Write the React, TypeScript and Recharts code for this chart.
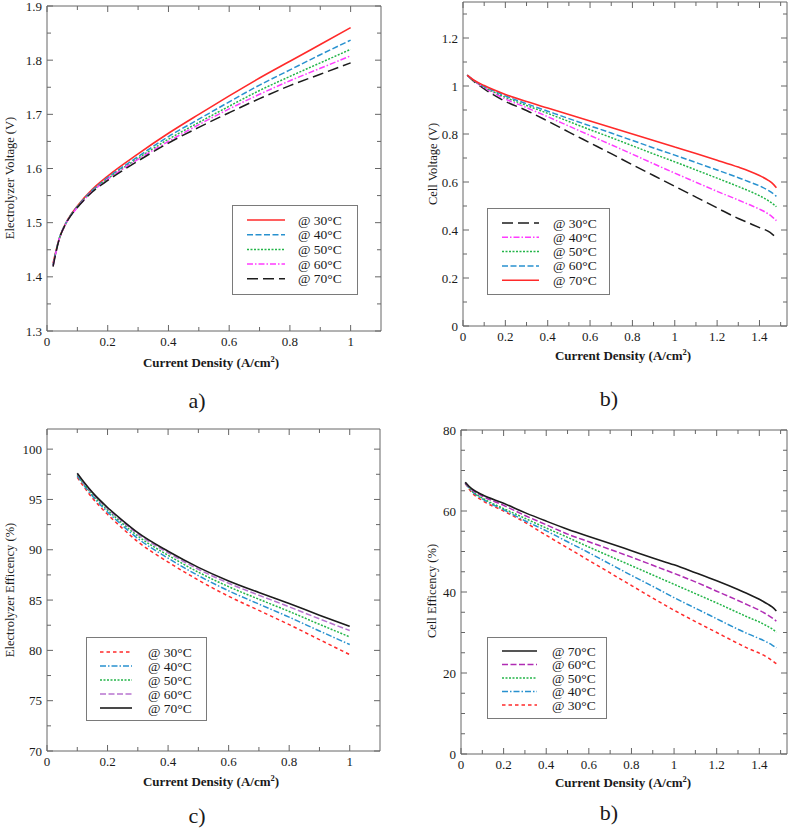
import React from "react";
import { LineChart, Line, XAxis, YAxis, Legend } from "recharts";

const PAGE_W = 789;
const PAGE_H = 830;
const FONT = '"Liberation Serif", "Times New Roman", Times, serif';

// ---------------- Panel a) Electrolyzer voltage ----------------
const aCurrent = [0.02, 0.04, 0.06, 0.08, 0.1, 0.15, 0.2, 0.3, 0.4, 0.5, 0.6, 0.7, 0.8, 0.9, 1.0];
const aV30 = [1.425, 1.47, 1.497, 1.516, 1.531, 1.562, 1.586, 1.627, 1.665, 1.7, 1.734, 1.767, 1.798, 1.829, 1.86];
const aV40 = [1.422, 1.47, 1.497, 1.515, 1.53, 1.56, 1.583, 1.622, 1.659, 1.691, 1.723, 1.754, 1.782, 1.81, 1.837];
const aV50 = [1.421, 1.47, 1.496, 1.515, 1.529, 1.559, 1.581, 1.619, 1.654, 1.685, 1.715, 1.744, 1.77, 1.795, 1.82];
const aV60 = [1.42, 1.469, 1.496, 1.514, 1.528, 1.558, 1.58, 1.617, 1.65, 1.681, 1.71, 1.737, 1.762, 1.785, 1.808];
const aV70 = [1.419, 1.469, 1.496, 1.514, 1.528, 1.557, 1.578, 1.614, 1.647, 1.676, 1.703, 1.729, 1.753, 1.774, 1.795];
const aXTicks = [0, 0.1, 0.2, 0.3, 0.4, 0.5, 0.6, 0.7, 0.8, 0.9, 1];
const aXLabels = [0, 0.2, 0.4, 0.6, 0.8, 1];
const aYTicks = [1.3, 1.35, 1.4, 1.45, 1.5, 1.55, 1.6, 1.65, 1.7, 1.75, 1.8, 1.85, 1.9];
const aYLabels = [1.3, 1.4, 1.5, 1.6, 1.7, 1.8, 1.9];

// ---------------- Panel b) Fuel cell voltage ----------------
const bCurrent = [0.02, 0.05, 0.1, 0.2, 0.3, 0.4, 0.5, 0.6, 0.7, 0.8, 0.9, 1.0, 1.1, 1.2, 1.3, 1.35, 1.4, 1.44, 1.46, 1.48];
const bV70 = [1.045, 1.025, 1.002, 0.965, 0.935, 0.908, 0.881, 0.854, 0.827, 0.8, 0.773, 0.746, 0.719, 0.691, 0.662, 0.646, 0.627, 0.608, 0.595, 0.576];
const bV60 = [1.045, 1.024, 0.999, 0.959, 0.926, 0.895, 0.864, 0.834, 0.804, 0.773, 0.742, 0.712, 0.681, 0.65, 0.618, 0.601, 0.584, 0.566, 0.555, 0.54];
const bV50 = [1.045, 1.023, 0.996, 0.953, 0.919, 0.886, 0.852, 0.818, 0.785, 0.751, 0.717, 0.684, 0.65, 0.616, 0.581, 0.563, 0.543, 0.523, 0.511, 0.497];
const bV40 = [1.045, 1.022, 0.993, 0.946, 0.91, 0.872, 0.833, 0.794, 0.755, 0.716, 0.676, 0.637, 0.599, 0.561, 0.525, 0.506, 0.487, 0.468, 0.455, 0.439];
const bV30 = [1.045, 1.02, 0.988, 0.936, 0.898, 0.854, 0.808, 0.763, 0.718, 0.672, 0.627, 0.582, 0.537, 0.492, 0.448, 0.429, 0.41, 0.395, 0.383, 0.368];
const bXTicks = [0, 0.1, 0.2, 0.3, 0.4, 0.5, 0.6, 0.7, 0.8, 0.9, 1, 1.1, 1.2, 1.3, 1.4, 1.5];
const bXLabels = [0, 0.2, 0.4, 0.6, 0.8, 1, 1.2, 1.4];
const bYTicks = [0, 0.1, 0.2, 0.3, 0.4, 0.5, 0.6, 0.7, 0.8, 0.9, 1, 1.1, 1.2, 1.3];
const bYLabels = [0, 0.2, 0.4, 0.6, 0.8, 1, 1.2];

// ---------------- Panel c) Electrolyzer efficiency ----------------
const cCurrent = [0.1, 0.125, 0.15, 0.2, 0.25, 0.3, 0.4, 0.5, 0.6, 0.7, 0.8, 0.9, 1.0];
const cE30 = [97.2, 96.12, 95.14, 93.52, 92.11, 90.8, 88.78, 86.98, 85.38, 83.97, 82.56, 81.07, 79.58];
const cE40 = [97.35, 96.29, 95.34, 93.76, 92.39, 91.12, 89.16, 87.43, 85.92, 84.6, 83.3, 81.93, 80.58];
const cE50 = [97.45, 96.42, 95.49, 93.95, 92.6, 91.36, 89.45, 87.77, 86.33, 85.08, 83.87, 82.59, 81.34];
const cE60 = [97.54, 96.53, 95.61, 94.1, 92.78, 91.56, 89.69, 88.06, 86.67, 85.48, 84.33, 83.13, 81.97];
const cE70 = [97.6, 96.6, 95.7, 94.2, 92.9, 91.7, 89.85, 88.25, 86.9, 85.75, 84.65, 83.5, 82.4];
const cXTicks = [0, 0.1, 0.2, 0.3, 0.4, 0.5, 0.6, 0.7, 0.8, 0.9, 1];
const cXLabels = [0, 0.2, 0.4, 0.6, 0.8, 1];
const cYTicks = [70, 72.5, 75, 77.5, 80, 82.5, 85, 87.5, 90, 92.5, 95, 97.5, 100];
const cYLabels = [70, 75, 80, 85, 90, 95, 100];

// ---------------- Panel d) Fuel cell efficiency ----------------
const dCurrent = [0.02, 0.05, 0.1, 0.2, 0.3, 0.4, 0.5, 0.6, 0.7, 0.8, 0.9, 1.0, 1.1, 1.2, 1.3, 1.35, 1.4, 1.44, 1.46, 1.48];
const dE70 = [67.1, 65.5, 64.0, 61.9, 59.6, 57.5, 55.5, 53.7, 52.0, 50.2, 48.4, 46.7, 44.75, 42.75, 40.6, 39.45, 38.2, 37.0, 36.3, 35.3];
const dE60 = [67.0, 65.3, 63.7, 61.4, 58.9, 56.6, 54.3, 52.4, 50.5, 48.6, 46.6, 44.6, 42.5, 40.2, 37.9, 36.7, 35.5, 34.3, 33.6, 32.8];
const dE50 = [67.0, 65.0, 63.2, 60.6, 58.2, 55.8, 53.5, 51.1, 48.8, 46.5, 44.2, 41.9, 39.6, 37.3, 34.9, 33.7, 32.6, 31.5, 30.9, 30.1];
const dE40 = [66.9, 64.9, 63.0, 60.3, 57.6, 55.1, 52.4, 49.7, 46.9, 44.1, 41.4, 38.6, 36.0, 33.4, 30.8, 29.6, 28.5, 27.5, 26.9, 26.2];
const dE30 = [66.8, 64.6, 62.6, 60.0, 57.2, 54.0, 50.9, 47.8, 44.7, 41.6, 38.5, 35.5, 32.7, 30.0, 27.3, 26.0, 24.9, 23.8, 23.1, 22.3];
const dXTicks = [0, 0.1, 0.2, 0.3, 0.4, 0.5, 0.6, 0.7, 0.8, 0.9, 1, 1.1, 1.2, 1.3, 1.4, 1.5];
const dXLabels = [0, 0.2, 0.4, 0.6, 0.8, 1, 1.2, 1.4];
const dYTicks = [0, 5, 10, 15, 20, 25, 30, 35, 40, 45, 50, 55, 60, 65, 70, 75, 80];
const dYLabels = [0, 20, 40, 60, 80];

const tempLabels = ["@ 30°C", "@ 40°C", "@ 50°C", "@ 60°C", "@ 70°C"];

// ---------------- styles ----------------
const RED = "#ff2a2a";
const BLUE = "#2891cf";
const GREEN = "#23b548";
const MAGENTA = "#ff3cff";
const PURPLE_C = "#b874cf";
const PURPLE_D = "#b02cb4";
const BLACK = "#1c1c1c";
const AXIS = "#666666";
const TEXT = "#1a1a1a";

type SeriesDef = {
  key: string;
  name: string;
  values: number[];
  color: string;
  dash?: string;
  width: number;
};

type LegendCfg = {
  left: number;
  top: number;
  width: number;
  height: number;
  rowTop: number;
  rowStep: number;
  lineX1: number;
  lineX2: number;
  textX: number;
  order: string[];
};

type PanelProps = {
  plot: { left: number; top: number; right: number; bottom: number };
  xDomain: [number, number];
  yDomain: [number, number];
  xTicks: number[];
  xLabels: number[];
  yTicks: number[];
  yLabels: number[];
  xs: number[];
  series: SeriesDef[];
  legend: LegendCfg;
};

const MAJOR = 6;
const MINOR = 4;

const isIn = (labels: number[], v: number) => labels.some((l) => Math.abs(l - v) < 1e-9);

function Panel(p: PanelProps) {
  const rows = p.xs.map((x, i) => {
    const r: Record<string, number> = { x };
    p.series.forEach((s) => {
      r[s.key] = s.values[i];
    });
    return r;
  });

  const BottomTick = (props: any) => {
    const { x, y, payload } = props;
    const major = isIn(p.xLabels, payload.value);
    return (
      <g>
        <line x1={x} y1={y} x2={x} y2={y - (major ? MAJOR : MINOR)} stroke={AXIS} strokeWidth={1} />
        {major && (
          <text x={x} y={y + 15} textAnchor="middle" fontFamily={FONT} fontSize={13} fill={TEXT}>
            {String(payload.value)}
          </text>
        )}
      </g>
    );
  };
  const TopTick = (props: any) => {
    const { x, y, payload } = props;
    const major = isIn(p.xLabels, payload.value);
    return <line x1={x} y1={y} x2={x} y2={y + (major ? MAJOR : MINOR)} stroke={AXIS} strokeWidth={1} />;
  };
  const LeftTick = (props: any) => {
    const { x, y, payload } = props;
    const major = isIn(p.yLabels, payload.value);
    return (
      <g>
        <line x1={x} y1={y} x2={x + (major ? MAJOR : MINOR)} y2={y} stroke={AXIS} strokeWidth={1} />
        {major && (
          <text x={x - 5} y={y + 4.5} textAnchor="end" fontFamily={FONT} fontSize={13} fill={TEXT}>
            {String(payload.value)}
          </text>
        )}
      </g>
    );
  };
  const RightTick = (props: any) => {
    const { x, y, payload } = props;
    const major = isIn(p.yLabels, payload.value);
    return <line x1={x} y1={y} x2={x - (major ? MAJOR : MINOR)} y2={y} stroke={AXIS} strokeWidth={1} />;
  };

  const lg = p.legend;
  const byKey: Record<string, SeriesDef> = {};
  p.series.forEach((s) => (byKey[s.key] = s));

  const LegendBox = () => (
    <svg width={lg.width} height={lg.height} style={{ display: "block" }}>
      <rect x={0.5} y={0.5} width={lg.width - 1} height={lg.height - 1} fill="#ffffff" stroke="#7a7a7a" strokeWidth={1} />
      {lg.order.map((k, i) => {
        const s = byKey[k];
        const y = lg.rowTop + i * lg.rowStep;
        return (
          <g key={k}>
            <line x1={lg.lineX1} y1={y} x2={lg.lineX2} y2={y} stroke={s.color} strokeWidth={s.width} strokeDasharray={s.dash} />
            <text x={lg.textX} y={y + 4.5} fontFamily={FONT} fontSize={13.5} fill={TEXT}>
              {s.name}
            </text>
          </g>
        );
      })}
    </svg>
  );

  // axes are 1px thick so that recharts renders them; margins compensate
  return (
    <div style={{ position: "absolute", left: 0, top: 0 }}>
      <LineChart
        width={PAGE_W}
        height={PAGE_H}
        data={rows}
        margin={{
          top: p.plot.top - 1,
          left: p.plot.left - 1,
          right: PAGE_W - p.plot.right - 1,
          bottom: PAGE_H - p.plot.bottom - 1,
        }}
      >
        <XAxis
          xAxisId="b"
          type="number"
          dataKey="x"
          domain={p.xDomain}
          ticks={p.xTicks}
          interval={0}
          height={1}
          tickSize={0}
          tickMargin={0}
          tickLine={false}
          axisLine={{ stroke: AXIS, strokeWidth: 1 }}
          tick={BottomTick}
          allowDataOverflow
        />
        <XAxis
          xAxisId="t"
          orientation="top"
          type="number"
          dataKey="x"
          domain={p.xDomain}
          ticks={p.xTicks}
          interval={0}
          height={1}
          tickSize={0}
          tickMargin={0}
          tickLine={false}
          axisLine={{ stroke: AXIS, strokeWidth: 1 }}
          tick={TopTick}
          allowDataOverflow
        />
        <YAxis
          yAxisId="l"
          type="number"
          domain={p.yDomain}
          ticks={p.yTicks}
          interval={0}
          width={1}
          tickSize={0}
          tickMargin={0}
          tickLine={false}
          axisLine={{ stroke: AXIS, strokeWidth: 1 }}
          tick={LeftTick}
          allowDataOverflow
        />
        <YAxis
          yAxisId="r"
          orientation="right"
          type="number"
          domain={p.yDomain}
          ticks={p.yTicks}
          interval={0}
          width={1}
          tickSize={0}
          tickMargin={0}
          tickLine={false}
          axisLine={{ stroke: AXIS, strokeWidth: 1 }}
          tick={RightTick}
          allowDataOverflow
        />
        {p.series.map((s) => (
          <Line
            key={s.key}
            xAxisId="b"
            yAxisId="l"
            dataKey={s.key}
            name={s.name}
            type="monotone"
            dot={false}
            activeDot={false}
            stroke={s.color}
            strokeWidth={s.width}
            strokeDasharray={s.dash}
            isAnimationActive={false}
          />
        ))}
        <Legend
          layout="vertical"
          align="center"
          verticalAlign="middle"
          wrapperStyle={{ left: lg.left, top: lg.top, width: lg.width, height: lg.height }}
          content={() => <LegendBox />}
        />
      </LineChart>
    </div>
  );
}

const DASH_LONG = "11 5";
const DASH_MED = "6 2.5";
const DOT = "2 1.5";
const DASH_DOT = "6 2 1.5 2";
const DASH_SHORT = "3.5 3";

const seriesA: SeriesDef[] = [
  { key: "t30", name: tempLabels[0], values: aV30, color: RED, width: 1.6 },
  { key: "t40", name: tempLabels[1], values: aV40, color: BLUE, dash: DASH_MED, width: 1.5 },
  { key: "t50", name: tempLabels[2], values: aV50, color: GREEN, dash: DOT, width: 1.5 },
  { key: "t60", name: tempLabels[3], values: aV60, color: MAGENTA, dash: DASH_DOT, width: 1.5 },
  { key: "t70", name: tempLabels[4], values: aV70, color: BLACK, dash: DASH_LONG, width: 1.5 },
];

const seriesB: SeriesDef[] = [
  { key: "t30", name: tempLabels[0], values: bV30, color: BLACK, dash: DASH_LONG, width: 1.5 },
  { key: "t40", name: tempLabels[1], values: bV40, color: MAGENTA, dash: DASH_DOT, width: 1.5 },
  { key: "t50", name: tempLabels[2], values: bV50, color: GREEN, dash: DOT, width: 1.5 },
  { key: "t60", name: tempLabels[3], values: bV60, color: BLUE, dash: DASH_MED, width: 1.5 },
  { key: "t70", name: tempLabels[4], values: bV70, color: RED, width: 1.6 },
];

const seriesC: SeriesDef[] = [
  { key: "t30", name: tempLabels[0], values: cE30, color: RED, dash: DASH_SHORT, width: 1.5 },
  { key: "t40", name: tempLabels[1], values: cE40, color: BLUE, dash: DASH_DOT, width: 1.5 },
  { key: "t50", name: tempLabels[2], values: cE50, color: GREEN, dash: DOT, width: 1.5 },
  { key: "t60", name: tempLabels[3], values: cE60, color: PURPLE_C, dash: DASH_MED, width: 1.5 },
  { key: "t70", name: tempLabels[4], values: cE70, color: BLACK, width: 1.6 },
];

const seriesD: SeriesDef[] = [
  { key: "t30", name: tempLabels[0], values: dE30, color: RED, dash: DASH_SHORT, width: 1.5 },
  { key: "t40", name: tempLabels[1], values: dE40, color: BLUE, dash: DASH_DOT, width: 1.5 },
  { key: "t50", name: tempLabels[2], values: dE50, color: GREEN, dash: DOT, width: 1.5 },
  { key: "t60", name: tempLabels[3], values: dE60, color: PURPLE_D, dash: DASH_MED, width: 1.5 },
  { key: "t70", name: tempLabels[4], values: dE70, color: BLACK, width: 1.6 },
];

const ORDER_UP = ["t30", "t40", "t50", "t60", "t70"];
const ORDER_DOWN = ["t70", "t60", "t50", "t40", "t30"];

function XTitle({ x, y }: { x: number; y: number }) {
  return (
    <text x={x} y={y} textAnchor="middle" fontFamily={FONT} fontSize={13} fontWeight="bold" fill={TEXT}>
      Current Density (A/cm
      <tspan fontSize={8.5} dy={-5}>
        2
      </tspan>
      <tspan dy={5}>)</tspan>
    </text>
  );
}

function YTitle({ x, y, text }: { x: number; y: number; text: string }) {
  return (
    <text transform={`translate(${x},${y}) rotate(-90)`} textAnchor="middle" fontFamily={FONT} fontSize={12.5} fill={TEXT}>
      {text}
    </text>
  );
}

export default function App() {
  return (
    <div style={{ position: "absolute", left: 0, top: 0, width: PAGE_W, height: PAGE_H, background: "#ffffff" }}>
      <Panel
        plot={{ left: 47, top: 6, right: 381, bottom: 331 }}
        xDomain={[0, 1.1]}
        yDomain={[1.3, 1.9]}
        xTicks={aXTicks}
        xLabels={aXLabels}
        yTicks={aYTicks}
        yLabels={aYLabels}
        xs={aCurrent}
        series={seriesA}
        legend={{ left: 232, top: 205, width: 126, height: 90, rowTop: 15, rowStep: 14.7, lineX1: 15, lineX2: 53, textX: 66, order: ORDER_UP }}
      />
      <Panel
        plot={{ left: 463, top: 2, right: 787, bottom: 326 }}
        xDomain={[0, 1.53]}
        yDomain={[0, 1.35]}
        xTicks={bXTicks}
        xLabels={bXLabels}
        yTicks={bYTicks}
        yLabels={bYLabels}
        xs={bCurrent}
        series={seriesB}
        legend={{ left: 487, top: 208, width: 123, height: 87, rowTop: 15, rowStep: 14.3, lineX1: 15, lineX2: 52, textX: 66, order: ORDER_UP }}
      />
      <Panel
        plot={{ left: 47, top: 429, right: 380, bottom: 751 }}
        xDomain={[0, 1.1]}
        yDomain={[70, 102]}
        xTicks={cXTicks}
        xLabels={cXLabels}
        yTicks={cYTicks}
        yLabels={cYLabels}
        xs={cCurrent}
        series={seriesC}
        legend={{ left: 86, top: 637, width: 121, height: 84, rowTop: 15, rowStep: 14, lineX1: 14, lineX2: 46, textX: 62, order: ORDER_UP }}
      />
      <Panel
        plot={{ left: 461, top: 430, right: 787, bottom: 754 }}
        xDomain={[0, 1.53]}
        yDomain={[0, 80]}
        xTicks={dXTicks}
        xLabels={dXLabels}
        yTicks={dYTicks}
        yLabels={dYLabels}
        xs={dCurrent}
        series={seriesD}
        legend={{ left: 487, top: 637, width: 120, height: 82, rowTop: 14, rowStep: 13.5, lineX1: 15, lineX2: 50, textX: 65, order: ORDER_DOWN }}
      />
      <svg
        width={PAGE_W}
        height={PAGE_H}
        style={{ position: "absolute", left: 0, top: 0, pointerEvents: "none" }}
      >
        <YTitle x={14} y={178} text="Electrolyzer Voltage (V)" />
        <YTitle x={437} y={164} text="Cell Voltage (V)" />
        <YTitle x={14} y={590} text="Electrolyzer Efficency (%)" />
        <YTitle x={436} y={591} text="Cell Efficency (%)" />
        <XTitle x={211} y={367} />
        <XTitle x={623} y={360} />
        <XTitle x={211} y={786} />
        <XTitle x={623} y={787} />
        <text x={197} y={408} textAnchor="middle" fontFamily={FONT} fontSize={22} fill={TEXT}>a)</text>
        <text x={609} y={406} textAnchor="middle" fontFamily={FONT} fontSize={22} fill={TEXT}>b)</text>
        <text x={197} y={823} textAnchor="middle" fontFamily={FONT} fontSize={22} fill={TEXT}>c)</text>
        <text x={609} y={820} textAnchor="middle" fontFamily={FONT} fontSize={22} fill={TEXT}>b)</text>
      </svg>
    </div>
  );
}
